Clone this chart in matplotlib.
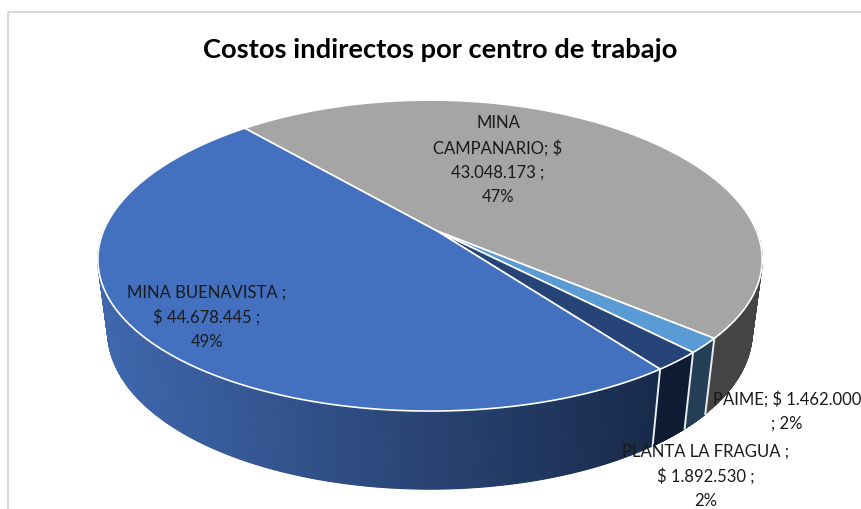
import numpy as np
import matplotlib
matplotlib.use('Agg')
import matplotlib.pyplot as plt
from matplotlib.colors import to_rgb

names = ['MINA\nCAMPANARIO; $\n43.048.173 ;\n47%', 'PAIME; $ 1.462.000\n; 2%',
         'PLANTA LA FRAGUA ;\n$ 1.892.530 ;\n2%', 'MINA BUENAVISTA ;\n$ 44.678.445 ;\n49%']
values = [43048173, 1462000, 1892530, 44678445]
top_colors = ['#a5a5a5', '#5b9bd5', '#264478', '#4371c0']
side_left = ['#444444', '#243f55', '#0f1b33', '#3f67ad']
side_right = ['#444444', '#243f55', '#0f1b33', '#182a4a']
label_pos = [(498, 160), (787, 411), (706, 476), (207, 317)]

START = 130.6
CX, CY = 430.0, 232.0
A, B, K = 326.5, 151.6, 0.158
DEPTH, M, SKEW = 73.5, 0.03, 9.0


def project(theta, z=0.0):
    # theta in degrees, disk seen from above with a bit of perspective
    t = np.radians(theta)
    u, v = np.cos(t), -np.sin(t)
    w = 1 - K * v + M * z
    return CX + A * u / w + SKEW * u * v, CY + (B * v + DEPTH * z) / w


def mix(c1, c2, f):
    c1, c2 = np.array(to_rgb(c1)), np.array(to_rgb(c2))
    return tuple(c1 + (c2 - c1) * f)


fig = plt.figure(figsize=(8.61, 5.10), dpi=100)
ax = fig.add_axes([0, 0, 1, 1])
ax.set_xlim(0, 861)
ax.set_ylim(510, 0)
ax.axis('off')

# chart frame
ax.plot([8, 8, 861], [510, 13, 13], color='#d9d9d9', lw=1.5, zorder=1)

fracs = np.array(values) / sum(values) * 360
ends = START - np.cumsum(fracs)
starts = ends + fracs

# side wall, only the part that faces the viewer
for i in range(len(values)):
    th = np.linspace(starts[i], ends[i], 400)
    th = th[np.sin(np.radians(th)) < 0.03]
    if len(th) < 2:
        continue
    for j in range(len(th) - 1):
        x0, y0 = project(th[j])
        x1, y1 = project(th[j + 1])
        x2, y2 = project(th[j + 1], 1)
        x3, y3 = project(th[j], 1)
        f = np.clip((x0 - 105) / (660 - 105), 0, 1)
        col = mix(side_left[i], side_right[i], f)
        ax.fill([x0, x1, x2, x3], [y0, y1, y2, y3], facecolor=col, edgecolor=col,
                lw=0.8, zorder=2)

# white seams on the wall
for e in ends[:3]:
    x = [project(e)[0], project(e, 1)[0]]
    y = [project(e)[1], project(e, 1)[1]]
    ax.plot(x, y, color='#e8edf2', lw=1.4, zorder=3)

# top face
for i in range(len(values)):
    th = np.linspace(starts[i], ends[i], 300)
    x, y = project(th)
    ax.fill(np.r_[CX + 7, x], np.r_[CY, y], facecolor=top_colors[i],
            edgecolor='white', lw=1.2, zorder=4, joinstyle='round')

ax.text(440, 50, 'Costos indirectos por centro de trabajo', ha='center', va='center',
        fontsize=19.7, fontweight='bold', family='Lato', color='black', zorder=6)

for name, (lx, ly) in zip(names, label_pos):
    ax.text(lx, ly, name, ha='center', va='center', fontsize=11.95, family='Lato',
            color='#1a1a1a', linespacing=1.62, zorder=6)

fig.savefig('out.png', dpi=100)
